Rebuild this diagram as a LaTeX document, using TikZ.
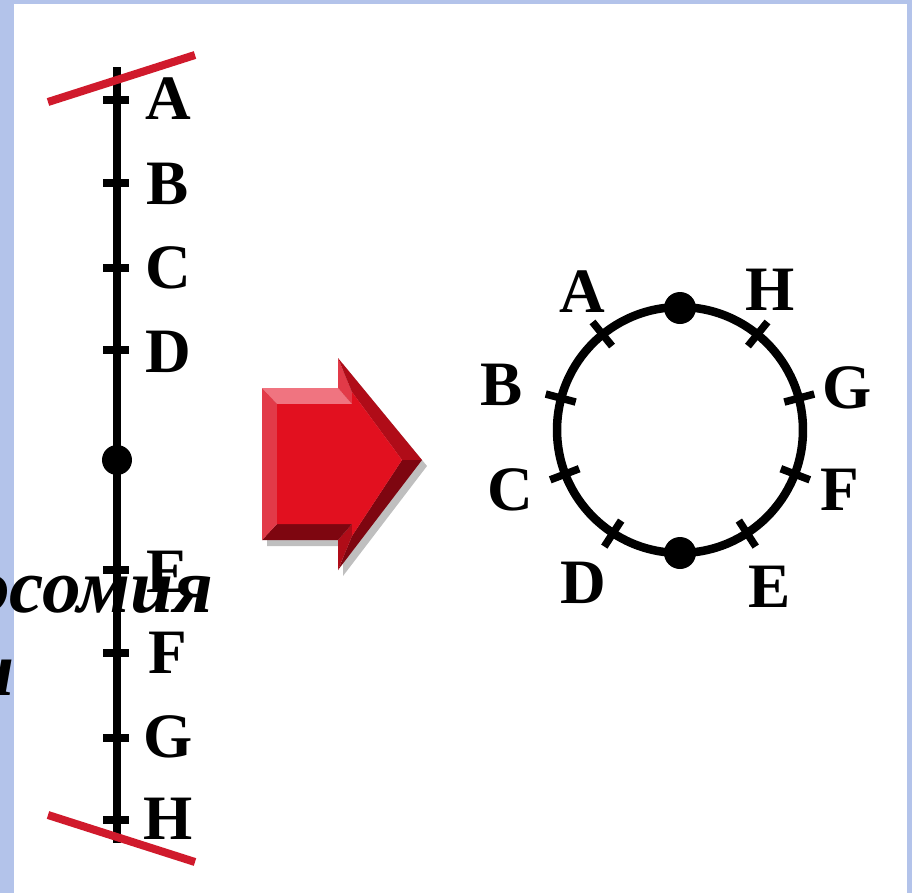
\documentclass[tikz,border=0pt]{standalone}
\usepackage{fontspec}
\setmainfont{Liberation Serif}
\usetikzlibrary{calc}
\definecolor{bgblue}{HTML}{B3C3EA}
\definecolor{redline}{HTML}{D01A2C}
\definecolor{arface}{HTML}{E2101F}
\definecolor{arlight}{HTML}{F07480}
\definecolor{armid}{HTML}{E23A48}
\definecolor{ardark}{HTML}{B00C18}
\definecolor{ardeep}{HTML}{7E0610}
\begin{document}
\begin{tikzpicture}[x=0.02cm,y=-0.02cm,
  blk/.style={line width=0.16cm},
  tickmark/.style={line width=0.15cm},
  redl/.style={line width=0.16cm,color=redline},
  lab/.style={font=\fontsize{36}{36}\selectfont\bfseries,inner sep=0pt},
  cyr/.style={font=\fontsize{44}{44}\selectfont\bfseries\itshape,inner sep=0pt},
  dot/.style={circle,fill=black,inner sep=0pt,minimum size=0.6cm}]
\useasboundingbox (0,0) rectangle (912,893);
\fill[bgblue] (0,0) rectangle (912,893);
\fill[white] (14,4) rectangle (907,893);

% straight chromosome
\coordinate (ltop) at (117,67);
\coordinate (lbot) at (117,843);
\draw[blk] (ltop) -- (lbot);
\foreach \n/\y/\ly in {A/100/99,B/183/184,C/268/268,D/350/352,E/570/572,F/653/653,G/738/737,H/820/819}{
  \coordinate (t\n) at (117,\y);
  \draw[tickmark] ($(t\n)+(-14,0)$) -- ($(t\n)+(12,0)$);
  \node[lab] (L\n) at (168,\ly) {\n};
}
\node[dot] (ldot) at (117,460) {};
\coordinate (r1a) at (48,102); \coordinate (r1b) at (195,55);
\coordinate (r2a) at (48,815); \coordinate (r2b) at (195,862);
\draw[redl] (r1a) -- (r1b);
\draw[redl] (r2a) -- (r2b);

% partially visible text
\node[cyr,anchor=base east] (txt1) at (214,612) {осомия};
\node[cyr,anchor=base east] (txt2) at (15,695) {и};

% 3D arrow
\coordinate (P1) at (262,388); \coordinate (P2) at (338,388);
\coordinate (P3) at (338,358); \coordinate (P4) at (422,460);
\coordinate (P5) at (338,570); \coordinate (P6) at (338,540);
\coordinate (P7) at (262,540);
\coordinate (Q1) at (277,404); \coordinate (Q2) at (352,404);
\coordinate (Q3) at (352,392); \coordinate (Q4) at (402,460);
\coordinate (Q5) at (352,536); \coordinate (Q6) at (352,524);
\coordinate (Q7) at (277,524);
\fill[black,opacity=0.25] ($(P1)+(5,6)$) -- ($(P2)+(5,6)$) -- ($(P3)+(5,6)$) -- ($(P4)+(5,6)$) -- ($(P5)+(5,6)$) -- ($(P6)+(5,6)$) -- ($(P7)+(5,6)$) -- cycle;
\fill[arlight] (P1) -- (P2) -- (Q2) -- (Q1) -- cycle;
\fill[armid] (P2) -- (P3) -- (Q3) -- (Q2) -- cycle;
\fill[ardark] (P3) -- (P4) -- (Q4) -- (Q3) -- cycle;
\fill[ardeep] (P4) -- (P5) -- (Q5) -- (Q4) -- cycle;
\fill[ardark] (P5) -- (P6) -- (Q6) -- (Q5) -- cycle;
\fill[ardeep] (P6) -- (P7) -- (Q7) -- (Q6) -- cycle;
\fill[armid] (P7) -- (P1) -- (Q1) -- (Q7) -- cycle;
\fill[arface] (Q1) -- (Q2) -- (Q3) -- (Q4) -- (Q5) -- (Q6) -- (Q7) -- cycle;

% ring chromosome
\coordinate (C) at (680,430);
\draw[line width=0.17cm] (C) circle (2.46cm);
\foreach \a in {129,165,201,237,51,15,-21,-57}{
  \draw[tickmark] ($(C)+({-\a}:108)$) -- ($(C)+({-\a}:139)$);
}
\node[dot,minimum size=0.64cm] (ctop) at (680,308) {};
\node[dot,minimum size=0.64cm] (cbot) at (680,553) {};
\foreach \n/\x/\y in {A/582/292,H/770/290,B/502/385,G/847/388,C/510/490,F/840/490,D/583/583,E/770/587}{
  \node[lab] (R\n) at (\x,\y) {\n};
}
\end{tikzpicture}
\end{document}
